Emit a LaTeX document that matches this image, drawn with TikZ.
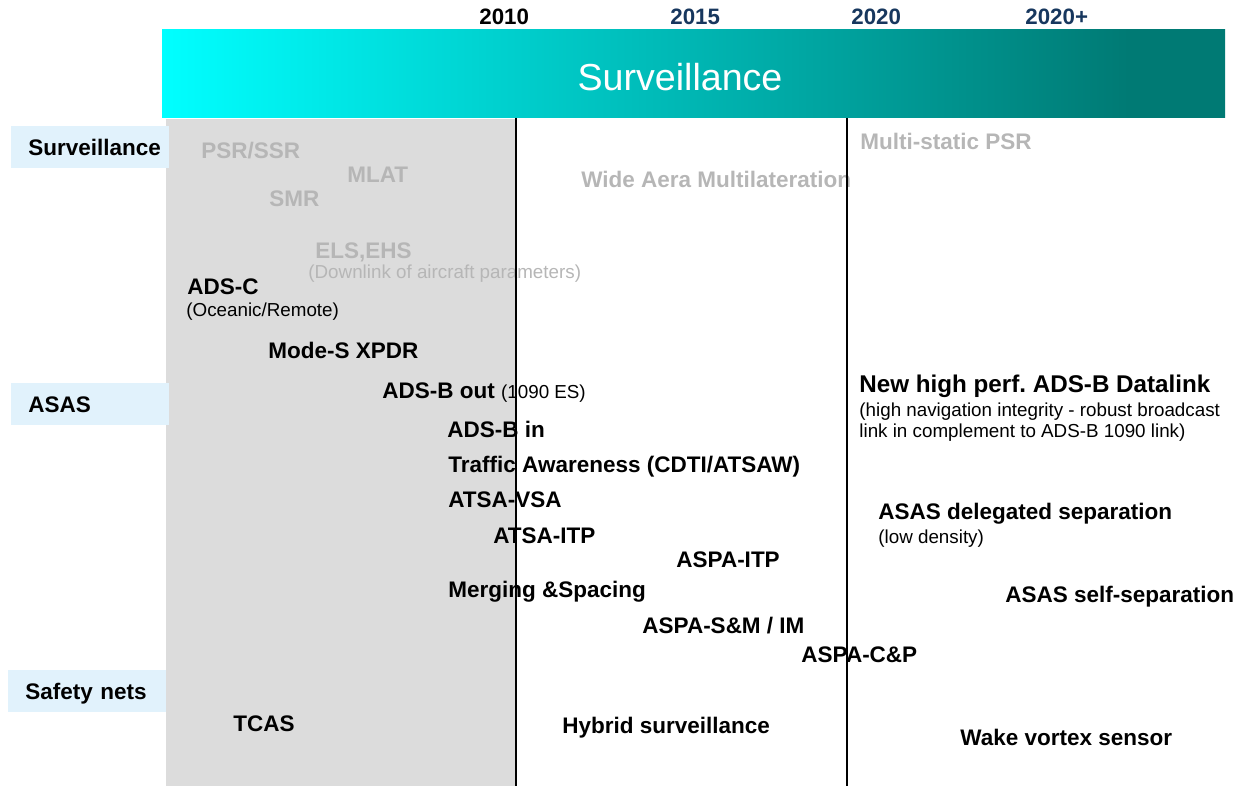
\documentclass[tikz,border=0pt]{standalone}
\usepackage{fontspec}
\setmainfont{Liberation Sans}
\frenchspacing
\definecolor{greytxt}{HTML}{B6B6B6}
\definecolor{pastbg}{HTML}{DCDCDC}
\definecolor{lblbg}{HTML}{E1F2FC}
\definecolor{navy}{HTML}{17375E}
\definecolor{hdrleft}{HTML}{00FFFF}
\definecolor{hdrright}{HTML}{007A74}
\pgfdeclarehorizontalshading{hdrshade}{100bp}{color(0bp)=(hdrleft); color(25bp)=(hdrleft); color(70.5bp)=(hdrright); color(100bp)=(hdrright)}
\newcommand{\bfl}{\fontsize{11.25pt}{13pt}\selectfont\bfseries}
\newcommand{\sml}{\fontsize{9.4pt}{11pt}\selectfont\mdseries}
\begin{document}
\begin{tikzpicture}[x=0.5pt,y=-0.5pt,
  item/.style={inner sep=0pt,anchor=base west,font=\bfl,text=black},
  gitem/.style={item,text=greytxt},
  note/.style={inner sep=0pt,anchor=base west,font=\sml,text=black},
  gnote/.style={note,text=greytxt},
  year/.style={inner sep=0pt,anchor=base west,font=\fontsize{11.15pt}{13pt}\selectfont\bfseries,text=navy},
  lblbox/.style={fill=lblbg,anchor=north west,minimum width=79pt,minimum height=21pt,
    text width=62pt,align=left,inner xsep=8.5pt,inner ysep=0pt,
    text height=8pt,text depth=0pt,font=\bfl},
  vline/.style={line width=0.9pt,black}]
\useasboundingbox (0,0) rectangle (1245,786);
% past area
\fill[pastbg] (166,119) rectangle (516,786);
% header band
\shade[shading=hdrshade] (162,30) rectangle (1225,118);
\node[inner sep=0pt,text=white,font=\fontsize{18.8pt}{22pt}\selectfont] (hdr) at (680,77) {Surveillance};
% years
\node[year,text=black] (y2010) at (479,25) {2010};
\node[year] (y2015) at (670,25) {2015};
\node[year] (y2020) at (851,25) {2020};
\node[year] (y2020p) at (1025,25) {2020+};
% left labels
\node[lblbox] (lsurv) at (11,126) {Surveillance};
\node[lblbox] (lasas) at (11,383) {ASAS};
\node[lblbox] (lsafe) at (8,670) {Safety nets};
% surveillance items
\node[gitem] (psr) at (201,159) {PSR/SSR};
\node[gitem] (mlat) at (347,183) {MLAT};
\node[gitem] (smr) at (269,206) {SMR};
\node[gitem] (els) at (315,258) {ELS,EHS};
\node[gnote] (down) at (308,278) {(Downlink of aircraft parameters)};
\node[gitem] (wam) at (581,188) {Wide Aera Multilateration};
\node[gitem] (mpsr) at (860,150) {Multi-static PSR};
\node[item] (adsc) at (187,294) {ADS-C};
\node[note] (ocean) at (186,316) {(Oceanic/Remote)};
\node[item] (modes) at (268,358) {Mode-S XPDR};
% ASAS items
\node[item] (adsbout) at (382,398) {ADS-B out {\sml(1090 ES)}};
\node[item] (adsbin) at (447,437) {ADS-B in};
\node[item] (traffic) at (448,472) {Traffic Awareness (CDTI/ATSAW)};
\node[item] (vsa) at (448,507) {ATSA-VSA};
\node[item] (atsaitp) at (493,543) {ATSA-ITP};
\node[item] (aspaitp) at (676,567) {ASPA-ITP};
\node[item] (merg) at (448,597) {Merging \&Spacing};
\node[item] (sm) at (642,633) {ASPA-S\&M / IM};
\node[item] (cp) at (801,662) {ASPA-C\&P};
\node[item,font=\fontsize{12.1pt}{14pt}\selectfont\bfseries] (newdl) at (859,392) {New high perf. ADS-B Datalink};
\node[note] (newdl1) at (859,416) {(high navigation integrity - robust broadcast};
\node[note] (newdl2) at (859,437) {link in complement to ADS-B 1090 link)};
\node[item] (deleg) at (878,519) {ASAS delegated separation};
\node[note] (lowd) at (878,543) {(low density)};
\node[item] (self) at (1005,602) {ASAS self-separation};
% safety nets
\node[item] (tcas) at (233,731) {TCAS};
\node[item] (hybrid) at (562,733) {Hybrid surveillance};
\node[item] (wake) at (960,745) {Wake vortex sensor};
% time lines
\coordinate (t10a) at (516,118); \coordinate (t10b) at (516,786);
\coordinate (t20a) at (847,118); \coordinate (t20b) at (847,786);
\draw[vline] (t10a) -- (t10b);
\draw[vline] (t20a) -- (t20b);
\end{tikzpicture}
\end{document}
